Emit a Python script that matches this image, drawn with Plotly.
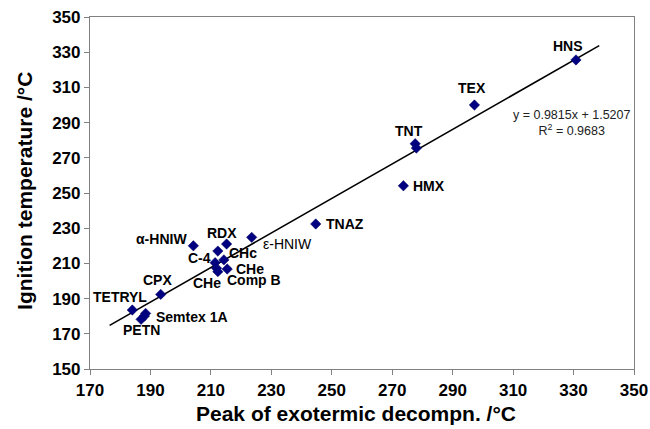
import numpy as np
import plotly.graph_objects as go

# Peak of exothermic decomposition (x) vs ignition temperature (y), in °C
peak_decomp = [330.8, 297.2, 277.6, 278.0, 273.7, 244.7, 223.5, 204.2, 215.2, 212.3,
               214.3, 211.4, 211.9, 215.4, 212.3, 193.4, 184.0, 188.4, 188.0, 186.9]
ignition = [325.6, 300.0, 278.0, 275.5, 254.1, 232.4, 224.8, 220.0, 221.0, 217.0,
            212.0, 210.4, 207.2, 206.8, 205.3, 192.4, 183.5, 181.6, 180.1, 178.2]
labels = ["HNS", "TEX", "TNT", "", "HMX", "TNAZ", "ε-HNIW", "α-HNIW", "RDX", "C-4",
          "CHc", "", "CHe", "CHe", "Comp B", "CPX", "TETRYL", "Semtex 1A", "", "PETN"]

# Linear trend line
slope, intercept = 0.9815, 1.5207
r_squared = 0.9683
trend_x = [176.5, 338.5]

x_ticks = list(range(170, 351, 20))
y_ticks = list(range(150, 351, 20))

# label placement: (xanchor, x offset px, y offset px, bold)
placement = {
    "HNS": ("center", -8, 14, True),
    "TEX": ("center", -2, 17, True),
    "TNT": ("center", -6, 13, True),
    "HMX": ("left", 8, 0, True),
    "TNAZ": ("left", 8, 0, True),
    "ε-HNIW": ("left", 9, -7, False),
    "α-HNIW": ("right", -4, 7, True),
    "RDX": ("center", -5, 11, True),
    "C-4": ("right", -5, -7, True),
    "CHc": ("left", 3, 7, True),
    "Comp B": ("left", 7, -8, True),
    "CPX": ("center", -3, 14, True),
    "TETRYL": ("center", -12, 13, True),
    "Semtex 1A": ("left", 8, -4, True),
    "PETN": ("center", 0, -11, True),
}
che_placement = [("right", 6, -15, True), ("left", 7, 0, True)]

FONT = "Arial, Liberation Sans, sans-serif"

fig = go.Figure()

tx = np.array(trend_x)
fig.add_trace(go.Scatter(
    x=tx, y=slope * tx + intercept, mode="lines",
    line=dict(color="black", width=1.6), hoverinfo="skip", showlegend=False,
))

fig.add_trace(go.Scatter(
    x=peak_decomp, y=ignition, mode="markers",
    marker=dict(symbol="diamond", size=8, color="#000080",
                line=dict(width=0.5, color="#000060")),
    showlegend=False,
))

che_i = 0
for xv, yv, lab in zip(peak_decomp, ignition, labels):
    if not lab:
        continue
    if lab == "CHe":
        anchor, dx, dy, bold = che_placement[che_i]
        che_i += 1
    else:
        anchor, dx, dy, bold = placement[lab]
    fig.add_annotation(
        x=xv, y=yv, xref="x", yref="y", text=f"<b>{lab}</b>" if bold else lab,
        showarrow=False, xanchor=anchor, yanchor="middle", xshift=dx, yshift=dy,
        font=dict(family=FONT, size=14, color="black"),
    )

# regression equation
fig.add_annotation(
    xref="paper", yref="paper", x=0.886, y=0.700,
    text=f"y = {slope}x + {intercept}<br>R<sup>2</sup> = {r_squared}",
    showarrow=False, align="center", xanchor="center", yanchor="middle",
    font=dict(family=FONT, size=12.5, color="#222222"),
)

# axis titles
fig.add_annotation(
    xref="paper", yref="paper", x=0.489, y=-0.125,
    text="<b>Peak of exotermic decompn. /°C</b>", showarrow=False,
    xanchor="center", yanchor="middle",
    font=dict(family=FONT, size=21, color="black"),
)
fig.add_annotation(
    xref="paper", yref="paper", x=-0.1195, y=0.506,
    text="<b>Ignition temperature /°C</b>", showarrow=False, textangle=-90,
    xanchor="center", yanchor="middle",
    font=dict(family=FONT, size=21, color="black"),
)

axis_common = dict(
    showgrid=False, zeroline=False, showline=True, linecolor="#808080", linewidth=1.2,
    mirror=True, ticks="outside", ticklen=5, tickcolor="#808080", tickwidth=1.2,
    tickfont=dict(family=FONT, size=17, color="black", weight="bold"),
    automargin=False,
)

fig.update_xaxes(range=[170, 350], tickvals=x_ticks, **axis_common)
fig.update_yaxes(range=[150, 350], tickvals=y_ticks, **axis_common)

fig.update_layout(
    width=650, height=429,
    margin=dict(l=90, r=16, t=17, b=60),
    paper_bgcolor="white", plot_bgcolor="white",
)

fig.write_html("out.html")
